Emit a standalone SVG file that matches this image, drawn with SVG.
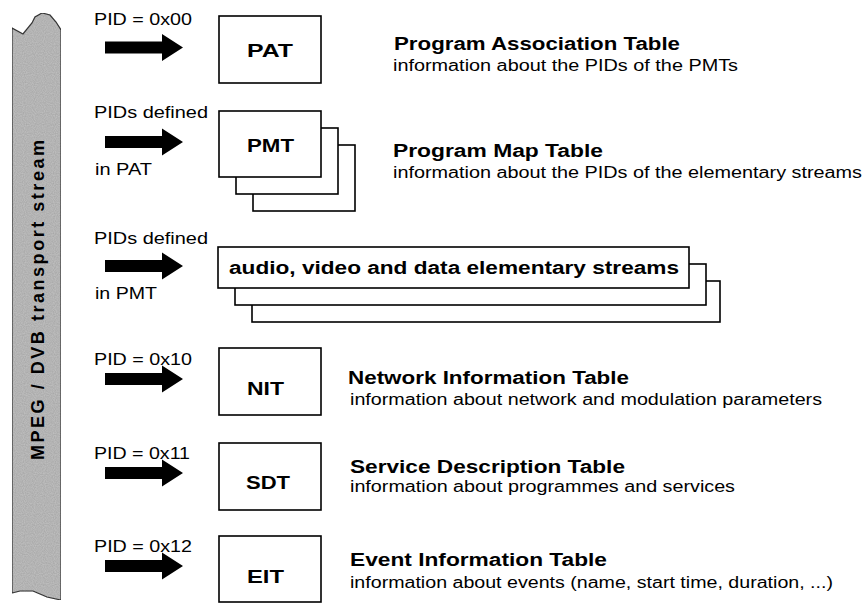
<svg xmlns="http://www.w3.org/2000/svg" xmlns:xlink="http://www.w3.org/1999/xlink" width="864" height="603" viewBox="0 0 864 603">
<style>
.box{fill:#fff;stroke:#000;stroke-width:1.6}
.lbl{font-family:"Liberation Sans",Arial,sans-serif;font-weight:bold;font-size:19px;fill:#000}
.ttl{font-family:"Liberation Sans",Arial,sans-serif;font-weight:bold;font-size:18px;fill:#000}
.dsc{font-family:"Liberation Sans",Arial,sans-serif;font-size:16px;fill:#000}
.pid{font-family:"Liberation Sans",Arial,sans-serif;font-size:16px;fill:#000}
.arrow{fill:#000}
</style>
<defs>
<path id="arr" class="arrow" d="M105,-6 H162 V-13.5 L183,0 L162,13.5 V6 H105 Z"/>
<filter id="noise" x="0" y="0" width="100%" height="100%">
<feTurbulence type="fractalNoise" baseFrequency="0.9" numOctaves="1" seed="3" result="n"/>
<feColorMatrix in="n" type="matrix" values="0 0 0 0 0  0 0 0 0 0  0 0 0 0 0  0 0 0 0.35 0" result="dots"/>
<feComposite in="dots" in2="SourceGraphic" operator="in" result="d2"/>
<feMerge><feMergeNode in="SourceGraphic"/><feMergeNode in="d2"/></feMerge>
</filter>
</defs>

<g id="stream">
<path d="M12,28 L23,34 L32,23 L35,17 L42,13 L50,15 L56,22 L61,30 L61,600 L47,597 L33,591 L20,591 L12,593 Z" fill="#c4c4c4" stroke="#3a3a3a" stroke-width="1.2" filter="url(#noise)"/>
<text class="ttl" transform="translate(44,300) rotate(-90)" text-anchor="middle" font-size="19" textLength="320" lengthAdjust="spacing">MPEG / DVB transport stream</text>
</g>

<g id="connectors">
<use xlink:href="#arr" href="#arr" y="47.5"/>
<use xlink:href="#arr" href="#arr" y="142"/>
<use xlink:href="#arr" href="#arr" y="266"/>
<use xlink:href="#arr" href="#arr" y="379"/>
<use xlink:href="#arr" href="#arr" y="473"/>
<use xlink:href="#arr" href="#arr" y="566"/>
<text class="pid" x="94" y="25" textLength="98" lengthAdjust="spacingAndGlyphs">PID = 0x00</text>
<text class="pid" x="94" y="118" textLength="114" lengthAdjust="spacingAndGlyphs">PIDs defined</text>
<text class="pid" x="95" y="175" textLength="57" lengthAdjust="spacingAndGlyphs">in PAT</text>
<text class="pid" x="94" y="244" textLength="114" lengthAdjust="spacingAndGlyphs">PIDs defined</text>
<text class="pid" x="95" y="299" textLength="62" lengthAdjust="spacingAndGlyphs">in PMT</text>
<text class="pid" x="94" y="365" textLength="98" lengthAdjust="spacingAndGlyphs">PID = 0x10</text>
<text class="pid" x="94" y="459" textLength="96" lengthAdjust="spacingAndGlyphs">PID = 0x11</text>
<text class="pid" x="94" y="552" textLength="98" lengthAdjust="spacingAndGlyphs">PID = 0x12</text>
</g>

<g id="pat">
<rect class="box" x="219" y="16" width="102" height="67"/>
<text class="lbl" x="247" y="57" textLength="46" lengthAdjust="spacingAndGlyphs">PAT</text>
<text class="ttl" x="394" y="50" textLength="286" lengthAdjust="spacingAndGlyphs">Program Association Table</text>
<text class="dsc" x="393" y="71" textLength="345" lengthAdjust="spacingAndGlyphs">information about the PIDs of the PMTs</text>
</g>

<g id="pmt">
<rect class="box" x="253" y="145" width="102" height="66"/>
<rect class="box" x="236" y="128" width="102" height="66"/>
<rect class="box" x="219" y="111" width="102" height="66"/>
<text class="lbl" x="247" y="152" textLength="47" lengthAdjust="spacingAndGlyphs">PMT</text>
<text class="ttl" x="393" y="157" textLength="210" lengthAdjust="spacingAndGlyphs">Program Map Table</text>
<text class="dsc" x="393" y="178" textLength="469" lengthAdjust="spacingAndGlyphs">information about the PIDs of the elementary streams</text>
</g>

<g id="streams">
<rect class="box" x="252" y="281" width="468" height="41"/>
<rect class="box" x="235" y="264" width="471" height="41"/>
<rect class="box" x="218" y="247" width="471" height="41"/>
<text class="ttl" x="229" y="274" textLength="450" lengthAdjust="spacingAndGlyphs">audio, video and data elementary streams</text>
</g>

<g id="nit">
<rect class="box" x="219" y="348" width="102" height="67"/>
<text class="lbl" x="247" y="395" textLength="37" lengthAdjust="spacingAndGlyphs">NIT</text>
<text class="ttl" x="348" y="384" textLength="281" lengthAdjust="spacingAndGlyphs">Network Information Table</text>
<text class="dsc" x="350" y="405" textLength="472" lengthAdjust="spacingAndGlyphs">information about network and modulation parameters</text>
</g>

<g id="sdt">
<rect class="box" x="219" y="443" width="102" height="67"/>
<text class="lbl" x="246" y="489" textLength="44" lengthAdjust="spacingAndGlyphs">SDT</text>
<text class="ttl" x="350" y="473" textLength="275" lengthAdjust="spacingAndGlyphs">Service Description Table</text>
<text class="dsc" x="350" y="492" textLength="385" lengthAdjust="spacingAndGlyphs">information about programmes and services</text>
</g>

<g id="eit">
<rect class="box" x="219" y="536" width="102" height="66"/>
<text class="lbl" x="247" y="583" textLength="37" lengthAdjust="spacingAndGlyphs">EIT</text>
<text class="ttl" x="350" y="566" textLength="257" lengthAdjust="spacingAndGlyphs">Event Information Table</text>
<text class="dsc" x="350" y="588" textLength="483" lengthAdjust="spacingAndGlyphs">information about events (name, start time, duration, ...)</text>
</g>
</svg>
